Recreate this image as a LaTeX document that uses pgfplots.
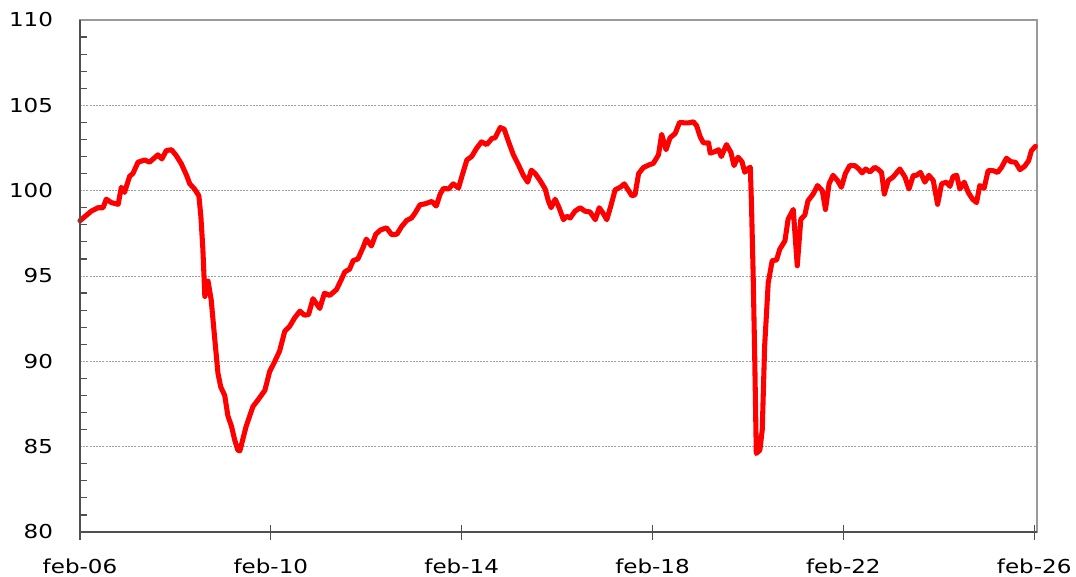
\documentclass[border=0pt]{standalone}
\usepackage{fontspec}
\setmainfont{DejaVu Sans}[FakeStretch=1.2]
\usepackage{pgfplots}
\usepackage{pgfplotstable}
\pgfplotsset{compat=1.18}
\definecolor{axdark}{HTML}{505050}
\definecolor{axlight}{HTML}{9A9A9A}
\definecolor{gridc}{HTML}{A0A0A0}
\pgfplotstableread{
m v
0 98.24
2.85 98.8
4.5 99.0
5.8 99.0
6.6 99.5
7.9 99.3
9.6 99.2
10.4 100.2
11.2 99.9
12.5 100.85
13.3 101.0
14.6 101.67
16.3 101.8
17.5 101.67
19.6 102.1
20.6 101.86
21.7 102.35
23 102.4
24.2 102.06
25.5 101.57
26.8 100.9
27.6 100.4
28.8 100.1
29.9 99.7
30.4 98.5
30.9 96.6
31.4 93.8
32.2 94.7
33 93.6
33.9 91.3
34.7 89.3
35.4 88.5
36.4 88.0
37.2 86.8
38.1 86.2
38.9 85.4
39.7 84.8
40.2 84.75
41.8 86.2
43.5 87.35
44.8 87.75
46.5 88.3
47.7 89.4
49 90.0
50.2 90.6
51.5 91.76
52.75 92.06
54 92.55
55.3 92.94
56.5 92.7
57.5 92.75
58.6 93.67
60.3 93.1
61.5 94.0
62.8 93.86
64.5 94.2
65.75 94.8
66.6 95.24
67.8 95.4
68.7 95.9
69.9 96.0
71.2 96.67
72 97.16
73.3 96.76
74.4 97.45
75.6 97.7
77.1 97.82
78.4 97.42
79.7 97.45
80.9 97.9
82.2 98.26
83.4 98.4
84.3 98.7
85.5 99.17
86.8 99.23
88.5 99.37
89.6 99.1
90.6 99.8
91.4 100.13
92.7 100.1
93.9 100.4
95.2 100.15
96 100.8
97.3 101.8
98.5 102.0
99.8 102.5
101 102.86
102.3 102.7
103.6 103.06
104.4 103.1
105.7 103.7
106.7 103.6
107.8 102.86
109 102.1
110.3 101.5
111.5 100.9
112.6 100.5
113.5 101.2
114.5 101.0
115.7 100.6
117 100.1
117.8 99.4
118.5 99.0
119.5 99.5
120.5 99.0
121.6 98.3
122.4 98.5
123.3 98.4
124.5 98.8
125.8 99.0
127 98.8
128.3 98.75
129.6 98.3
130.6 99.0
131.5 98.7
132.5 98.3
133.5 99.1
134.6 100.05
135.9 100.2
136.9 100.4
138 100.0
138.8 99.7
139.6 99.76
140.5 101.0
141.7 101.35
143 101.5
144.2 101.6
145.5 102.1
146.3 103.3
147.4 102.4
148.4 103.1
149.7 103.35
150.8 104.0
152.2 103.97
153 103.97
154.3 104.03
155.1 103.8
156 103.15
156.8 102.8
158.1 102.8
158.5 102.2
159.8 102.3
160.6 102.4
161.3 102.0
162.6 102.7
163.7 102.25
164.5 101.47
165.5 101.96
166.5 101.7
167.2 101.08
167.9 101.27
168.6 101.37
168.9 99.1
169.3 95.2
169.7 90.3
170.1 84.6
171 84.8
171.6 86.0
172.2 90.9
173.1 94.6
174.1 95.9
175.2 95.94
176 96.57
177.3 97.06
178.1 98.33
179.4 98.9
180.4 95.6
181.3 98.33
182.3 98.57
183.1 99.41
184.4 99.8
185.5 100.3
186.7 100.0
187.5 98.9
188.4 100.4
189.4 100.9
190.5 100.6
191.5 100.2
192.5 101.0
193.6 101.47
194.9 101.47
195.9 101.27
196.7 101.04
197.6 101.27
198.7 101.1
199.9 101.37
200.8 101.24
201.6 101.07
202.3 99.8
203.3 100.6
204.5 100.8
206.2 101.27
207.5 100.8
208.5 100.1
209.6 100.9
210.4 100.9
211.4 101.07
212.5 100.5
213.5 100.9
214.6 100.6
215.7 99.2
216.7 100.4
217.9 100.5
218.8 100.25
219.6 100.84
220.5 100.9
221.3 100.1
222.4 100.5
223.4 99.9
224.5 99.5
225.5 99.3
226.3 100.3
227.4 100.14
228.4 101.17
229.7 101.17
230.8 101.07
231.8 101.37
233 101.9
234.1 101.7
235.3 101.66
236.4 101.23
237.6 101.43
238.6 101.76
239.3 102.34
240.3 102.6
}\datatable
\begin{document}
\begin{tikzpicture}
\useasboundingbox (0pt,0pt) rectangle (807pt,432pt);
\begin{axis}[
  at={(60pt,33pt)}, anchor=south west,
  scale only axis,
  width=717.75pt, height=384pt,
  xmin=0, xmax=240.7,
  ymin=80, ymax=110,
  xtick={0,48,96,144,192,240},
  xticklabels={feb-06,feb-10,feb-14,feb-18,feb-22,feb-26},
  ytick={80,85,90,95,100,105,110},
  minor y tick num=4,
  xtick pos=bottom, ytick pos=left,
  xtick align=center, ytick align=inside,
  major tick length=11.25pt,
  minor tick length=5.25pt,
  major y tick style={draw=none},
  minor y tick style={draw=axdark, line width=0.9pt},
  x tick style={draw=axdark, line width=0.9pt},
  ymajorgrids,
  major grid style={draw=gridc, line width=0.6pt, dash pattern=on 1.5pt off 0.9pt},
  axis line style={draw=axlight, line width=1.1pt},
  /pgf/number format/assume math mode=true,
  tick label style={font=\fontsize{14.4}{17}\selectfont, text=black},
  yticklabel style={inner sep=0pt, anchor=east, xshift=-20pt},
  xticklabel style={inner sep=0pt, anchor=north, yshift=-14pt},
  clip=false,
]
\addplot[draw={rgb,255:red,255;green,0;blue,0}, line width=3.8pt, line join=round, line cap=round] table[x=m, y=v] {\datatable};
\draw[axdark, line width=1.6pt] (rel axis cs:0,1) -- (rel axis cs:0,0) -- (rel axis cs:1,0);
\end{axis}
\end{tikzpicture}
\end{document}
